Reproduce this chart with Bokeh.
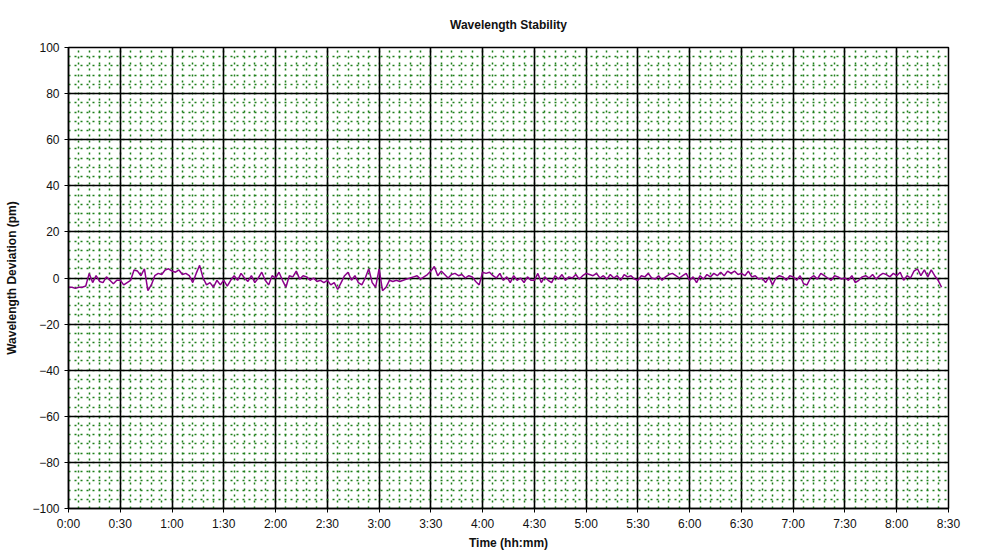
from bokeh.plotting import figure
from bokeh.models import FixedTicker, Range1d
from bokeh.embed import file_html
from bokeh.resources import INLINE

# Time in minutes (sampled every 2 minutes) and wavelength deviation in pm
dev_00_30 = [-4, -4, -4.5, -4, -4, -3.5, 2, -2, 1, -1.5, -2, 0.5, -1, -2.5, -1]
dev_30_60 = [-1, -3, -2, -1, 3.5, 3, 1, 4, -5.5, -3, 1, 2, 1.5, 3.5, 4]
dev_60_90 = [3, 2.5, 3.5, 1.5, 2, 1, -2, 2, 5.5, 0, -3, -2, -4, -1, -3]
dev_90_120 = [-1, -3.5, -1, 1, -1, 2, 0, -1.5, 1, -2, 0, 2.5, -1, -3, 1]
dev_120_150 = [0, 2.5, -1, -4, 1, 0.5, 3, -0.5, 1, 0.5, -1, 0, -1.5, -1, -2]
dev_150_180 = [-1, -3, -2, -5, -2, 1, 2.5, -1, 1, -2, -3, 0, 4, -2, -4]
dev_180_210 = [4, -5.5, -4, -1, -1.5, -1, -1.5, -1, -0.5, 0, 0.5, 1, -0.5, 0.5, 1.5]
dev_210_240 = [3, 5, 1, 3, 1.5, 0, 1.5, 2, 1, 1.5, 0, 1, 0.5, -1.5, -3]
dev_240_270 = [2.5, 2, 2.5, 1, 0, 2, -1, 0.5, -2, 1, -1, 0, -2, 0.5, -1]
dev_270_300 = [-1, 2, -2, 0.5, -1, -2, 1, -0.5, 1.5, -1, 0.5, 0, 1.5, -0.5, 1]
dev_300_330 = [2, 1.5, 1, 2, 0, 1, -0.5, 1.5, 0, 1, -1, 1.5, 0.5, 1, -0.5]
dev_330_360 = [-1, 1, 0.5, 2, 0, -0.5, 1, -1, 0.5, 1.5, 2, 1, 0, 1, 2]
dev_360_390 = [-1, 0.5, -2, 1, -0.5, 1.5, 0.5, 2, 1, 2.5, 1, 3, 2, 3, 1.5]
dev_390_420 = [2, 1, 3, 0.5, 1, -0.5, 0, -2, 0.5, -3, 0, 1, 0.5, -1, 1]
dev_420_450 = [0.5, -1, 1, -2.5, -3, 0, 1, -0.5, 2, 1, 0, -1, 1, 0.5, -0.5]
dev_450_480 = [0, -1, 1, -2, -1, 0.5, 1, 0, 1.5, -0.5, 1, 2, 1.5, 0.5, 2]
dev_480_508 = [1, 2.5, -1, 1, 0, 3, 4, 1, 3.5, 0.5, 3.5, 1, -1, -4]

deviation = (dev_00_30 + dev_30_60 + dev_60_90 + dev_90_120 + dev_120_150 + dev_150_180
             + dev_180_210 + dev_210_240 + dev_240_270 + dev_270_300 + dev_300_330
             + dev_330_360 + dev_360_390 + dev_390_420 + dev_420_450 + dev_450_480
             + dev_480_508)
sample_step_min = 2
time_min = [i * sample_step_min for i in range(len(deviation))]

x_tick_minutes = [0, 30, 60, 90, 120, 150, 180, 210, 240, 270, 300, 330, 360, 390, 420, 450, 480, 510]
x_tick_labels = ["0:00", "0:30", "1:00", "1:30", "2:00", "2:30", "3:00", "3:30", "4:00",
                 "4:30", "5:00", "5:30", "6:00", "6:30", "7:00", "7:30", "8:00", "8:30"]
y_ticks = [-100, -80, -60, -40, -20, 0, 20, 40, 60, 80, 100]
x_minor = list(range(0, 511, 6))
y_minor = list(range(-100, 101, 4))

p = figure(width=973, height=553, output_backend="svg", toolbar_location=None,
           title="Wavelength Stability",
           x_range=Range1d(0, 510), y_range=Range1d(-100, 100),
           min_border_left=68, min_border_right=25, min_border_top=47, min_border_bottom=45)

p.title.align = "center"
p.title.text_font = "Liberation Sans"
p.title.text_font_size = "12px"
p.title.text_font_style = "bold"
p.title.text_color = "#111111"
p.title.standoff = 31

p.line(time_min, deviation, line_color="#8b008b", line_width=1.5)

p.xaxis.ticker = FixedTicker(ticks=x_tick_minutes, minor_ticks=x_minor)
p.yaxis.ticker = FixedTicker(ticks=y_ticks, minor_ticks=y_minor)
p.xaxis.major_label_overrides = {m: lab for m, lab in zip(x_tick_minutes, x_tick_labels)}

p.xaxis.axis_label = "Time (hh:mm)"
p.yaxis.axis_label = "Wavelength Deviation (pm)"
for ax in (p.xaxis, p.yaxis):
    ax.axis_label_text_font = "Liberation Sans"
    ax.axis_label_text_font_size = "12px"
    ax.axis_label_text_font_style = "bold"
    ax.axis_label_text_color = "#111111"
    ax.major_label_text_font = "Liberation Sans"
    ax.major_label_text_font_size = "12px"
    ax.major_label_text_color = "#111111"
    ax.axis_line_color = "black"
    ax.axis_line_width = 1.5
    ax.major_tick_line_color = "black"
    ax.major_tick_in = 0
    ax.major_tick_out = 4
    ax.minor_tick_line_color = None
p.xaxis.axis_label_standoff = 2
p.yaxis.axis_label_standoff = 10
p.xaxis.major_label_standoff = 4

for g in (p.xgrid, p.ygrid):
    g.grid_line_color = "black"
    g.grid_line_width = 1.6
    g.minor_grid_line_color = "#1f7f1a"
    g.minor_grid_line_width = 1.5
    g.minor_grid_line_dash = "2 4"

p.outline_line_color = "black"
p.outline_line_width = 1.5
p.background_fill_color = "white"
p.border_fill_color = "white"

open("out.html", "w").write(file_html(p, INLINE))
